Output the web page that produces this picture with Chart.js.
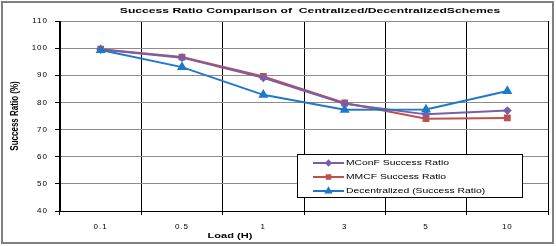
<!DOCTYPE html>
<html>
<head>
<meta charset="utf-8">
<script src="https://cdn.jsdelivr.net/npm/chart.js@4.4.0/dist/chart.umd.min.js"></script>
<style>
  html, body { margin: 0; padding: 0; background: #fff; }
  #wrap { width: 556px; height: 246px; position: relative; }
</style>
</head>
<body>
<div id="wrap"><canvas id="chart"></canvas></div>
<script>
// data
const loads = ['0.1', '0.5', '1', '3', '5', '10'];
const mconfRatio = [99.5, 96.5, 89.1, 79.5, 75.6, 77.0];
const mmcfRatio = [99.6, 96.7, 89.6, 79.8, 74.0, 74.3];
const decentralRatio = [99.3, 93.0, 82.8, 77.3, 77.4, 84.2];
const seriesNames = ['MConF Success Ratio', 'MMCF Success Ratio', 'Decentralized (Success Ratio)'];

const FONT = '"Liberation Sans", Arial, sans-serif';
const STRETCH = 1.38; // reference text is drawn wide

function wideText(ctx, text, x, y, font, align, rotate, stretch){
  const k = stretch || STRETCH;
  ctx.save();
  ctx.font = font;
  ctx.fillStyle = '#000';
  ctx.textBaseline = 'middle';
  ctx.letterSpacing = '0px';
  ctx.translate(x, y);
  if (rotate) { ctx.rotate(-Math.PI / 2); ctx.scale(1, k); }
  else ctx.scale(k, 1);
  ctx.textAlign = align || 'center';
  ctx.fillText(text, 0, 0);
  ctx.restore();
}

const decor = {
  id: 'decor',
  beforeDraw(chart){
    chart.ctx.letterSpacing = '1px';
  },
  afterDraw(chart){
    const ctx = chart.ctx;
    const a = chart.chartArea;

    // outer frame
    ctx.save();
    ctx.strokeStyle = '#7f7f7f';
    ctx.lineWidth = 2;
    ctx.strokeRect(2, 2, 551, 241);
    ctx.restore();

    wideText(ctx, 'Success Ratio Comparison of  Centralized/DecentralizedSchemes',
      310, 11, 'bold 8px ' + FONT, 'center', false, 1.52);
    wideText(ctx, 'Success Ratio (%)', 15, (a.top + a.bottom) / 2, 'bold 8px ' + FONT, 'center', true);
    wideText(ctx, 'Load (H)', 230, 236, 'bold 8px ' + FONT);

    // legend box inside the plot
    const bx = 297, by = 154, bw = 225, bh = 43;
    ctx.save();
    ctx.letterSpacing = '0px';
    ctx.fillStyle = '#fff';
    ctx.fillRect(bx, by, bw, bh);
    ctx.strokeStyle = '#000';
    ctx.lineWidth = 1;
    ctx.strokeRect(bx + 0.5, by + 0.5, bw, bh);
    chart.data.datasets.forEach((ds, i) => {
      const y = by + 9 + i * 14;
      ctx.strokeStyle = ds.borderColor;
      ctx.lineWidth = 2;
      ctx.beginPath();
      ctx.moveTo(313, y);
      ctx.lineTo(344, y);
      ctx.stroke();
      ctx.fillStyle = ds.borderColor;
      Chart.helpers.drawPoint(ctx, {
        pointStyle: ds.pointStyle, radius: ds.pointRadius * 0.75, rotation: 0, borderWidth: 1
      }, 328.5, y);
      wideText(ctx, ds.label, 346, y, '7.5px ' + FONT, 'left');
    });
    ctx.restore();
  }
};

new Chart(document.getElementById('chart'), {
  type: 'line',
  data: {
    labels: loads,
    datasets: [
      {
        label: seriesNames[0], data: mconfRatio, order: 1,
        borderColor: '#7b5ea7', backgroundColor: '#7b5ea7',
        pointStyle: 'rectRot', pointRadius: 3, borderWidth: 2
      },
      {
        label: seriesNames[1], data: mmcfRatio, order: 2,
        borderColor: '#c0504d', backgroundColor: '#c0504d',
        pointStyle: 'rect', pointRadius: 3.4, borderWidth: 2
      },
      {
        label: seriesNames[2], data: decentralRatio, order: 0,
        borderColor: '#1f78c8', backgroundColor: '#1f78c8',
        pointStyle: 'triangle', pointRadius: 3.8, borderWidth: 2
      }
    ]
  },
  options: {
    responsive: true,
    maintainAspectRatio: false,
    animation: false,
    layout: { padding: { top: 21, right: 8, left: 0, bottom: 0 } },
    plugins: {
      legend: { display: false },
      title: { display: false },
      tooltip: { enabled: false }
    },
    elements: { line: { tension: 0 }, point: { borderWidth: 1 } },
    scales: {
      x: {
        offset: true,
        grid: { offset: true, color: '#000', lineWidth: 1, tickLength: 4, tickColor: '#000' },
        border: { color: '#000', width: 1 },
        ticks: { color: '#000', font: { family: FONT, size: 8 }, padding: 7, maxRotation: 0 },
        afterFit(s){ s.height = 35; }
      },
      y: {
        min: 40, max: 110,
        grid: { color: '#8c8c8c', lineWidth: 1, tickLength: 5, tickColor: '#000' },
        border: { color: '#000', width: 1 },
        ticks: { stepSize: 10, color: '#000', font: { family: FONT, size: 8 }, padding: 7 },
        afterFit(s){ s.width = 60; }
      }
    }
  },
  plugins: [decor]
});
</script>
</body>
</html>
